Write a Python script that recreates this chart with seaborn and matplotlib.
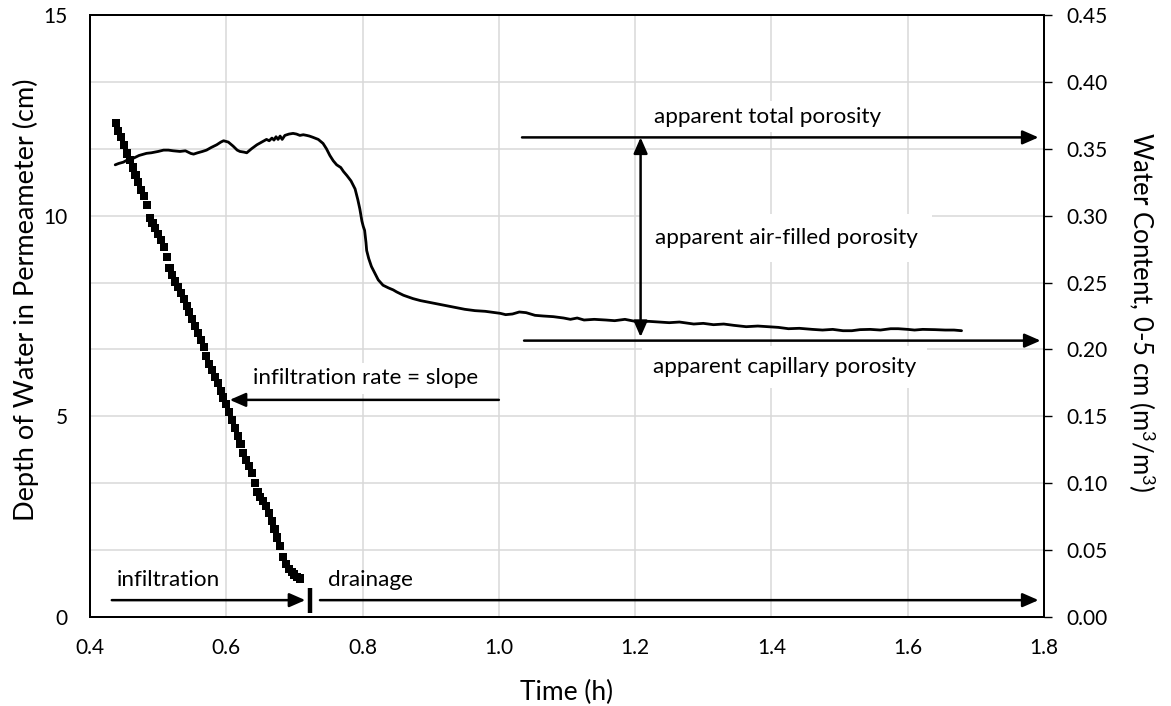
import matplotlib
matplotlib.use("Agg")
import matplotlib.pyplot as plt
import seaborn as sns
import pandas as pd

# ---------------- data ----------------
time_depth = [0.4375, 0.4417, 0.4458, 0.4500, 0.4542, 0.4583, 0.4625, 0.4667, 0.4708, 0.4750,
              0.4792, 0.4833, 0.4875, 0.4917, 0.4958, 0.5000, 0.5042, 0.5083, 0.5125, 0.5167,
              0.5208, 0.5250, 0.5292, 0.5333, 0.5375, 0.5417, 0.5458, 0.5500, 0.5542, 0.5583,
              0.5625, 0.5667, 0.5708, 0.5750, 0.5792, 0.5833, 0.5875, 0.5917, 0.5958, 0.6000,
              0.6042, 0.6083, 0.6125, 0.6167, 0.6208, 0.6250, 0.6292, 0.6333, 0.6375, 0.6417,
              0.6458, 0.6500, 0.6542, 0.6583, 0.6625, 0.6667, 0.6708, 0.6750, 0.6792, 0.6833,
              0.6875, 0.6917, 0.6958, 0.7000, 0.7042, 0.7083]
depth_cm = [12.30, 12.12, 11.95, 11.76, 11.55, 11.38, 11.20, 11.02, 10.83, 10.63,
            10.48, 10.27, 9.95, 9.82, 9.70, 9.55, 9.40, 9.22, 8.98, 8.70,
            8.52, 8.36, 8.22, 8.08, 7.92, 7.76, 7.60, 7.43, 7.25, 7.08,
            6.90, 6.72, 6.50, 6.30, 6.15, 5.99, 5.82, 5.64, 5.47, 5.30,
            5.10, 4.90, 4.70, 4.52, 4.30, 4.09, 3.92, 3.76, 3.59, 3.35,
            3.12, 3.00, 2.88, 2.76, 2.60, 2.40, 2.20, 1.98, 1.76, 1.50,
            1.33, 1.20, 1.12, 1.06, 1.00, 0.96]

time_wc = [0.437, 0.442, 0.449, 0.456, 0.464, 0.472, 0.483, 0.490, 0.500, 0.508,
           0.515, 0.522, 0.532, 0.540, 0.548, 0.552, 0.558, 0.565, 0.571, 0.578,
           0.586, 0.592, 0.596, 0.603, 0.610, 0.616, 0.620, 0.626, 0.630, 0.637,
           0.645, 0.652, 0.659, 0.663, 0.667, 0.670, 0.673, 0.676, 0.679, 0.682,
           0.686, 0.692, 0.698, 0.703, 0.708, 0.713, 0.718, 0.722, 0.727, 0.735,
           0.742, 0.747, 0.752, 0.757, 0.762, 0.768, 0.772, 0.777, 0.783, 0.789,
           0.793, 0.796, 0.799, 0.801, 0.803, 0.805, 0.806, 0.809, 0.813, 0.818,
           0.823, 0.830, 0.838, 0.845, 0.850, 0.860, 0.874, 0.885, 0.900, 0.915,
           0.930, 0.950, 0.965, 0.980, 0.995, 1.002, 1.010, 1.020, 1.030, 1.040,
           1.053, 1.065, 1.080, 1.095, 1.105, 1.115, 1.125, 1.140, 1.157, 1.170,
           1.185, 1.200, 1.208, 1.220, 1.235, 1.250, 1.265, 1.286, 1.300, 1.315,
           1.330, 1.345, 1.363, 1.380, 1.395, 1.410, 1.425, 1.441, 1.460, 1.475,
           1.490, 1.505, 1.518, 1.530, 1.545, 1.560, 1.575, 1.586, 1.600, 1.610,
           1.622, 1.640, 1.655, 1.668, 1.679]
water_content = [0.338, 0.339, 0.340, 0.342, 0.343, 0.345, 0.3466, 0.347, 0.348, 0.349,
                 0.349, 0.3485, 0.348, 0.3485, 0.3465, 0.346, 0.347, 0.348, 0.349, 0.351,
                 0.353, 0.355, 0.356, 0.355, 0.352, 0.349, 0.348, 0.3475, 0.347, 0.350,
                 0.353, 0.355, 0.357, 0.356, 0.358, 0.3565, 0.359, 0.357, 0.3595, 0.357,
                 0.360, 0.361, 0.3615, 0.361, 0.360, 0.3605, 0.360, 0.3595, 0.3586, 0.357,
                 0.354, 0.350, 0.345, 0.341, 0.338, 0.336, 0.333, 0.330, 0.326, 0.320,
                 0.312, 0.305, 0.296, 0.292, 0.289, 0.280, 0.274, 0.268, 0.262, 0.257,
                 0.252, 0.248, 0.246, 0.2445, 0.243, 0.2405, 0.238, 0.2365, 0.235, 0.2335,
                 0.232, 0.230, 0.229, 0.2285, 0.2275, 0.227, 0.226, 0.2265, 0.228, 0.2275,
                 0.2255, 0.225, 0.2245, 0.2235, 0.2225, 0.2235, 0.222, 0.2225, 0.222, 0.2215,
                 0.2225, 0.221, 0.2207, 0.221, 0.2205, 0.220, 0.2205, 0.219, 0.2195, 0.2185,
                 0.219, 0.218, 0.217, 0.2175, 0.217, 0.2165, 0.2155, 0.2158, 0.215, 0.2145,
                 0.2150, 0.214, 0.214, 0.2148, 0.215, 0.2145, 0.2155, 0.2155, 0.215, 0.2145,
                 0.215, 0.2148, 0.2145, 0.2145, 0.214]

x_ticks = [0.4, 0.6, 0.8, 1.0, 1.2, 1.4, 1.6, 1.8]
x_tick_labels = ["0.4", "0.6", "0.8", "1.0", "1.2", "1.4", "1.6", "1.8"]
depth_labels = ["0", "5", "10", "15"]
wc_ticks = [0.00, 0.05, 0.10, 0.15, 0.20, 0.25, 0.30, 0.35, 0.40, 0.45]
wc_tick_labels = ["0.00", "0.05", "0.10", "0.15", "0.20", "0.25", "0.30", "0.35", "0.40", "0.45"]

# ---------------- style ----------------
sns.set_theme(style="white")
plt.rcParams["font.family"] = ["Lato", "DejaVu Sans"]
plt.rcParams["mathtext.fontset"] = "custom"
plt.rcParams["mathtext.rm"] = "Lato"
plt.rcParams["mathtext.it"] = "Lato:italic"
plt.rcParams["text.color"] = "black"
plt.rcParams["axes.labelcolor"] = "black"
plt.rcParams["xtick.color"] = "black"
plt.rcParams["ytick.color"] = "black"

TICK_FS = 15
ANN_FS = 16.2
GRID = "#d9d9d9"

fig = plt.figure(figsize=(11.71, 7.06), dpi=100)
ax = fig.add_axes([90 / 1171, 1 - 617 / 706, (1044 - 90) / 1171, (617 - 15) / 706])
ax2 = ax.twinx()

df_depth = pd.DataFrame({"time": time_depth, "depth": depth_cm})
df_wc = pd.DataFrame({"time": time_wc, "wc": water_content})

sns.scatterplot(data=df_depth, x="time", y="depth", ax=ax, marker="s", s=34,
                color="black", edgecolor="none", linewidth=0, zorder=3)
sns.lineplot(data=df_wc, x="time", y="wc", ax=ax2, color="black", linewidth=2.0,
             estimator=None, zorder=3)

# left axis gridlines aligned with right-axis ticks
depth_grid = [v / 0.03 for v in wc_ticks]
ax.set_xlim(0.4, 1.8)
ax.set_ylim(0, 15)
ax2.set_ylim(0, 0.45)
ax.set_xticks(x_ticks)
ax.set_xticklabels(x_tick_labels, fontsize=TICK_FS)
ax.set_yticks(depth_grid)
ax.set_yticklabels([depth_labels[i // 3] if i % 3 == 0 else "" for i in range(len(depth_grid))],
                   fontsize=TICK_FS)
ax.grid(True, color=GRID, linewidth=1.1)
ax.set_axisbelow(True)
ax.tick_params(axis="x", length=0, pad=15)
ax.tick_params(axis="y", length=0, pad=16)

ax2.set_yticks(wc_ticks)
ax2.set_yticklabels(wc_tick_labels, fontsize=TICK_FS)
ax2.tick_params(axis="y", length=6, width=1.0, direction="out", pad=10, right=True)
ax2.grid(False)

for a in (ax, ax2):
    for sp in a.spines.values():
        sp.set_color("black")
        sp.set_linewidth(1.4)
        sp.set_visible(True)

ax.set_xlabel("Time (h)", fontsize=19, va="center")
ax.xaxis.set_label_coords(0.5, (617 - 692) / 602)
ax.set_ylabel("Depth of Water in Permeameter (cm)", fontsize=19.5, va="center")
ax.yaxis.set_label_coords((26 - 90) / 954, (617 - 300) / 602)
ax2.set_ylabel("Water Content, 0-5 cm (m$^3$/m$^3$)", fontsize=18.5, rotation=270,
               va="center", ha="center")
ax2.yaxis.set_label_coords((1142 - 90) / 954, (617 - 312) / 602)
ax2.set_xlabel("")

# ---------------- annotations (right axis units; depth cm * 0.03) ----------------
arrow = dict(arrowstyle="-|>,head_length=0.8,head_width=0.35", color="black", lw=1.8,
             shrinkA=0, shrinkB=0)
darrow = dict(arrowstyle="<|-|>,head_length=0.8,head_width=0.35", color="black", lw=1.8,
              shrinkA=0, shrinkB=0)
box = dict(facecolor="white", edgecolor="none", pad=4)

# text boxes first (lower zorder), arrows on top
ax2.text(1.228, 0.374, "apparent total porosity", fontsize=ANN_FS, ha="left", va="center",
         bbox=box, zorder=4)
ax2.text(1.226, 0.187, "apparent capillary porosity", fontsize=ANN_FS, ha="left", va="center",
         bbox=dict(facecolor="white", edgecolor="none", pad=8), zorder=4)
ax2.text(1.229, 0.283, "apparent air-filled porosity", fontsize=ANN_FS, ha="left",
         va="center", bbox=dict(facecolor="white", edgecolor="none", pad=10), zorder=4)
ax2.text(0.639, 5.95 * 0.03, "infiltration rate = slope", fontsize=ANN_FS, ha="left",
         va="center", bbox=box, zorder=4)
ax2.text(0.439, 0.92 * 0.03, "infiltration", fontsize=ANN_FS, ha="left", va="center", zorder=4)
ax2.text(0.749, 0.92 * 0.03, "drainage", fontsize=ANN_FS, ha="left", va="center", zorder=4)

# total porosity
ax2.annotate("", xy=(1.792, 0.3585), xytext=(1.034, 0.3585), arrowprops=arrow, zorder=6)
# capillary porosity
ax2.annotate("", xy=(1.795, 0.2066), xytext=(1.037, 0.2066), arrowprops=arrow, zorder=6)
# air-filled porosity (double arrow)
ax2.annotate("", xy=(1.208, 0.2093), xytext=(1.208, 0.3585), arrowprops=darrow, zorder=6)
# infiltration rate = slope
ax2.annotate("", xy=(0.605, 5.41 * 0.03), xytext=(1.0, 5.41 * 0.03), arrowprops=arrow, zorder=6)
# infiltration / drainage
ax2.annotate("", xy=(0.716, 0.42 * 0.03), xytext=(0.432, 0.42 * 0.03), arrowprops=arrow, zorder=6)
ax2.plot([0.7225, 0.7225], [0.10 * 0.03, 0.72 * 0.03], color="black", lw=3.2,
         solid_capstyle="butt", zorder=6)
ax2.annotate("", xy=(1.792, 0.42 * 0.03), xytext=(0.7375, 0.42 * 0.03), arrowprops=arrow, zorder=6)

fig.savefig("out.png", dpi=100, facecolor="white")
